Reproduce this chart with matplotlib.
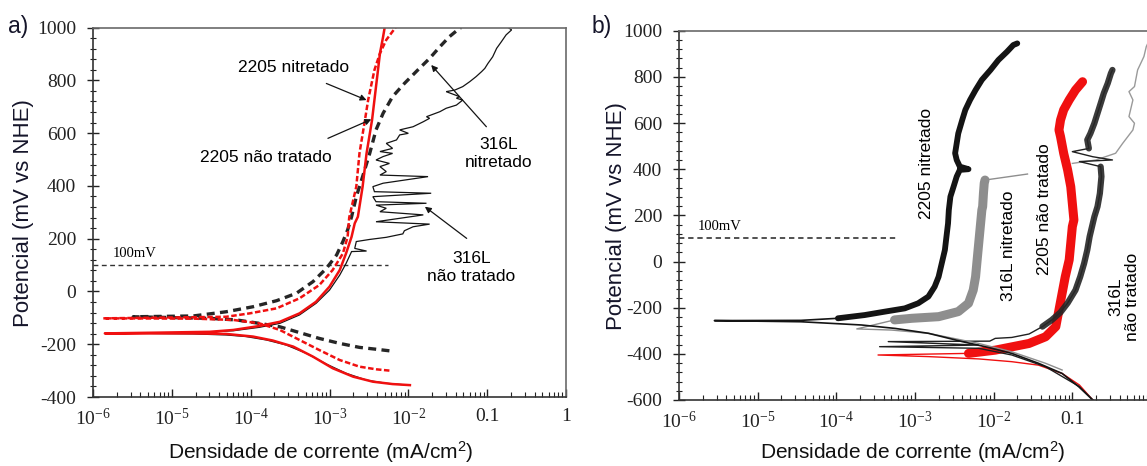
import numpy as np
import matplotlib
matplotlib.use('Agg')
import matplotlib.pyplot as plt
from matplotlib.ticker import (LogLocator, MultipleLocator, FuncFormatter, NullFormatter,
                               FixedLocator)

# ---------------- DATA (log10 current density [mA/cm2], potential [mV vs NHE]) ----------------
# Panel a)
a_2205_nit_logi = [-2.24, -2.41, -2.62, -2.87, -3.13, -3.38, -3.63, -3.89, -4.22, -4.73, -5.87,
                   -4.31, -4.01, -3.67, -3.38, -3.13, -2.96, -2.83, -2.77, -2.75, -2.66, -2.62,
                   -2.55, -2.51, -2.43, -2.36, -2.28, -2.17, -2.16]
a_2205_nit_E = [-300, -295, -285, -260, -222, -184, -146, -121, -108, -103, -102,
                -96, -83, -64, -26, 24, 81, 144, 207, 280, 397, 523,
                650, 725, 839, 902, 953, 997, 1000]

a_2205_nt_logi = [-1.98, -2.20, -2.45, -2.70, -2.96, -3.21, -3.46, -3.72, -3.97, -4.31, -4.73, -5.85,
                  -5.15, -4.52, -4.22, -3.89, -3.63, -3.38, -3.17, -3.00, -2.87, -2.79, -2.72, -2.68,
                  -2.64, -2.58, -2.53, -2.46, -2.41, -2.36, -2.32, -2.30]
a_2205_nt_E = [-355, -351, -342, -323, -291, -247, -209, -186, -171, -161, -159, -159,
               -156, -153, -146, -131, -115, -83, -39, 18, 81, 144, 207, 258,
               283, 397, 523, 650, 776, 902, 965, 1000]

a_316_nit_logi = [-2.24, -2.41, -2.62, -2.87, -3.13, -3.38, -3.63, -3.89, -4.18, -4.52, -5.49,
                  -4.73, -4.31, -3.97, -3.67, -3.42, -3.21, -3.04, -2.91, -2.83, -2.77, -2.72,
                  -2.66, -2.58, -2.49, -2.41, -2.32, -2.20, -2.05, -1.88, -1.73, -1.60, -1.48,
                  -1.35, -1.33]
a_316_nit_E = [-225, -219, -212, -197, -178, -156, -134, -121, -108, -102, -96,
               -93, -77, -58, -35, -7, 37, 87, 138, 189, 233, 283,
               359, 435, 523, 612, 675, 738, 788, 839, 883, 927, 965,
               997, 1000]

a_316_nt_logi = [-2.00, -2.28, -2.53, -2.79, -3.04, -3.29, -3.55, -3.80, -4.06, -4.31, -4.73, -5.37,
                 -4.73, -4.22, -3.89, -3.63, -3.38, -3.17, -3.00, -2.87, -2.79, -2.74, -2.72, -2.53,
                 -2.68, -2.66, -2.49, -2.28, -2.07, -2.05, -1.94, -1.73, -2.41, -1.81, -2.36, -2.28,
                 -2.41, -1.77, -2.41, -2.45, -1.71, -2.43, -2.45, -2.32, -1.75, -2.36, -2.28, -2.36,
                 -2.24, -2.41, -2.32, -2.20, -2.36, -2.20, -2.28, -2.15, -2.11, -2.00, -2.11, -1.94,
                 -1.81, -1.73, -1.77, -1.60, -1.52, -1.39, -1.31, -1.39, -1.35, -1.52, -1.41, -1.31,
                 -1.22, -1.14, -1.07, -1.03, -0.99, -0.93, -0.88, -0.82, -0.76, -0.69, -0.74]
a_316_nt_E = [-355, -348, -336, -310, -275, -235, -203, -184, -171, -165, -161, -159,
              -156, -149, -136, -121, -89, -45, 5, 62, 106, 138, 151, 153,
              163, 189, 197, 205, 218, 230, 245, 255, 264, 290, 302, 315,
              327, 334, 340, 359, 372, 378, 397, 410, 435, 441, 454, 473,
              485, 498, 511, 523, 530, 542, 561, 574, 593, 599, 612, 624,
              643, 656, 662, 681, 694, 706, 725, 732, 738, 757, 763, 776,
              795, 814, 833, 845, 864, 889, 921, 946, 972, 991, 1001]

# Panel b)
b_2205_nit_logi = [-0.74, -0.92, -1.13, -1.43, -1.77, -2.11, -2.40, -2.83, -3.25, -3.68, -4.45, -5.55,
                   -4.45, -3.98, -3.64, -3.38, -3.13, -2.96, -2.83, -2.75, -2.70, -2.66, -2.62, -2.60,
                   -2.58, -2.57, -2.55, -2.51, -2.47, -2.43, -2.32, -2.43, -2.47, -2.49, -2.47, -2.45,
                   -2.40, -2.36, -2.30, -2.23, -2.15, -2.04, -1.94, -1.83, -1.75, -1.70]
b_2205_nit_E = [-600, -542, -485, -441, -398, -369, -347, -311, -290, -275, -261, -256,
                -255, -246, -232, -217, -203, -181, -152, -109, -66, -8, 50, 108,
                165, 223, 281, 324, 368, 397, 400, 411, 440, 469, 512, 555,
                613, 657, 700, 743, 787, 830, 873, 909, 938, 945]

b_316_nit_logi = [-1.13, -1.34, -1.77, -2.19, -2.83, -3.30, -3.74,
                  -3.26, -3.04, -2.70, -2.45, -2.32, -2.26, -2.23, -2.21, -2.19, -2.17, -2.15,
                  -2.14, -2.13, -2.12, -2.11, -1.57]
b_316_nit_E = [-470, -441, -391, -355, -311, -297, -292,
               -253, -246, -239, -217, -181, -124, -66, 7, 79, 151, 223,
               238, 295, 339, 353, 379]

b_2205_nt_logi = [-0.74, -0.91, -1.13, -1.43, -1.77, -2.19, -2.83, -3.47,
                  -2.32, -1.98, -1.55, -1.34, -1.21, -1.17, -1.13, -1.09, -1.04, -1.02, -1.00,
                  -0.98, -1.00, -1.02, -1.06, -1.11, -1.15, -1.17, -1.15, -1.11, -1.04, -0.96, -0.87]
b_2205_nt_E = [-600, -535, -485, -449, -434, -422, -412, -405,
               -398, -384, -355, -326, -282, -210, -138, -66, 7, 79, 151,
               180, 252, 324, 397, 469, 541, 570, 613, 657, 700, 743, 779]

b_316_nt_logi = [-0.74, -0.91, -1.34, -1.77, -2.19, -3.45, -2.19, -3.34, -2.05,
                 -1.98, -1.77, -1.55, -1.38, -1.26, -1.15, -1.06, -0.96, -0.90, -0.85, -0.81,
                 -0.78, -0.75, -0.72, -0.68, -0.65, -0.63, -0.64, -0.91, -0.49, -0.74, -1.00,
                 -0.79, -0.81, -0.77, -0.72, -0.68, -0.64, -0.60, -0.55, -0.51, -0.49]
b_316_nt_E = [-600, -542, -456, -405, -376, -369, -362, -347, -345,
              -333, -329, -314, -282, -253, -220, -180, -124, -66, -8, 50,
              108, 151, 194, 238, 295, 368, 411, 433, 440, 454, 476,
              490, 527, 555, 599, 642, 685, 729, 772, 815, 830]

b_316_nt_top_logi = [-1.00, -0.70, -0.45, -0.36, -0.23, -0.21, -0.28, -0.26, -0.23, -0.28, -0.21,
                     -0.17, -0.13, -0.09, -0.06, -0.03, 0.05]
b_316_nt_top_E = [425, 440, 469, 512, 570, 599, 628, 657, 700, 736, 758,
                  830, 859, 888, 931, 953, 1000]

ref_E = 100
a_ref_logi = [-6.0, -2.26]
b_ref_logi = [-6.0, -3.23]

x_decades = [1e-6, 1e-5, 1e-4, 1e-3, 1e-2, 1e-1, 1.0]

# ---------------- FIGURE ----------------
SERIF = 'Liberation Serif'
SANS = 'Liberation Sans'
plt.rcParams['font.family'] = [SANS, 'DejaVu Sans']

W, H = 1147, 466
fig = plt.figure(figsize=(W / 100, H / 100), dpi=100)
axA = fig.add_axes([93 / W, 1 - 397 / H, 473 / W, (397 - 27.5) / H])
axB = fig.add_axes([679 / W, 1 - 400 / H, 472 / W, (400 - 30.7) / H])

RED = '#f01010'
BLK = '#141414'
GRY = '#8e8e8e'


def p(v):
    return 10.0 ** np.asarray(v)


def xfmt_a(v, pos):
    e = int(round(np.log10(v)))
    if e == -1:
        return '0.1'
    if e == 0:
        return '1'
    return r'$\mathregular{10^{%d}}$' % e


def style(ax, ylim, decades):
    ax.set_xscale('log')
    ax.set_xlim(1e-6, 1)
    ax.set_ylim(*ylim)
    ax.xaxis.set_major_locator(FixedLocator(decades))
    ax.xaxis.set_minor_locator(LogLocator(base=10, subs=np.arange(2, 10), numticks=20))
    ax.xaxis.set_major_formatter(FuncFormatter(xfmt_a))
    ax.xaxis.set_minor_formatter(NullFormatter())
    ax.yaxis.set_major_locator(MultipleLocator(200))
    ax.yaxis.set_minor_locator(MultipleLocator(40))
    ax.yaxis.set_major_formatter(FuncFormatter(lambda v, pp: '%d' % round(v)))
    ax.tick_params(axis='x', which='major', direction='in', length=6, width=1.0, pad=8,
                   labelsize=14, labelfontfamily=SERIF, top=False, colors='#222')
    ax.tick_params(axis='x', which='minor', direction='in', length=3.5, width=0.8, top=False,
                   colors='#222')
    ax.tick_params(axis='y', which='major', direction='inout', length=8, width=1.0, pad=8,
                   labelsize=14, labelfontfamily=SERIF, right=False, colors='#222')
    ax.tick_params(axis='y', which='minor', direction='inout', length=5, width=0.8, right=False,
                   colors='#222')
    for s in ax.spines.values():
        s.set_linewidth(1.2)
        s.set_color('#333333')
    ax.spines['top'].set_color('#6a6a6a')
    ax.spines['right'].set_color('#6a6a6a')
    ax.set_facecolor('white')


style(axA, (-400, 1000), x_decades)
style(axB, (-600, 1000), x_decades[:-1])

# ---- panel a curves ----
axA.plot(p(a_ref_logi), [ref_E, ref_E], color='#333333', lw=1.0, dashes=(3.5, 2.5))
axA.plot(p(a_316_nt_logi), a_316_nt_E, color=BLK, lw=0.9, solid_joinstyle='miter')
axA.plot(p(a_316_nit_logi), a_316_nit_E, color='#262626', lw=2.4, dashes=(2.4, 1.6))
axA.plot(p(a_2205_nt_logi), a_2205_nt_E, color=RED, lw=1.8)
axA.plot(p(a_2205_nit_logi), a_2205_nit_E, color=RED, lw=1.8, dashes=(2.2, 1.0))

axA.text(p(-5.47), 144, '100mV', family=SERIF, fontsize=10.5, ha='center', va='center')

arrow = dict(arrowstyle='-|>', color=BLK, lw=0.9, mutation_scale=9, shrinkA=0, shrinkB=0)
axA.text(p(-3.46), 850, '2205 nitretado', fontsize=12.5, ha='center', va='center')
axA.annotate('', xy=(p(-2.53), 725), xytext=(p(-3.04), 788), arrowprops=arrow)
axA.text(p(-3.81), 509, '2205 não tratado', fontsize=12.5, ha='center', va='center')
axA.annotate('', xy=(p(-2.47), 652), xytext=(p(-3.02), 580), arrowprops=arrow)
axA.text(p(-0.86), 521, '316L\nnitretado', fontsize=12.5, ha='center', va='center',
         linespacing=1.25)
axA.annotate('', xy=(p(-1.71), 858), xytext=(p(-1.01), 624), arrowprops=arrow)
axA.text(p(-1.20), 89, '316L\nnão tratado', fontsize=12.5, ha='center', va='center',
         linespacing=1.25)
axA.annotate('', xy=(p(-1.79), 321), xytext=(p(-1.26), 201), arrowprops=arrow)

# ---- panel b curves ----
axB.plot(p(b_ref_logi), [ref_E, ref_E], color='#222222', lw=1.1, dashes=(3.5, 2.5))
axB.plot(p(b_316_nt_top_logi), b_316_nt_top_E, color='#9a9a9a', lw=1.0)

axB.plot(p(b_2205_nt_logi), b_2205_nt_E, color=RED, lw=1.0)
axB.plot(p(b_2205_nt_logi[8:]), b_2205_nt_E[8:], color=RED, lw=6.5,
         solid_joinstyle='round', solid_capstyle='round')

axB.plot(p(b_316_nt_logi), b_316_nt_E, color='#202020', lw=1.0)
axB.plot(p(b_316_nt_logi[12:27]), b_316_nt_E[12:27], color='#262626', lw=4.5, alpha=0.9,
         solid_joinstyle='round', solid_capstyle='round')
axB.plot(p(b_316_nt_logi[31:]), b_316_nt_E[31:], color='#262626', lw=4.5, alpha=0.9,
         solid_joinstyle='round', solid_capstyle='round')

axB.plot(p(b_316_nit_logi), b_316_nit_E, color=GRY, lw=1.0)
axB.plot(p(b_316_nit_logi[7:22]), b_316_nit_E[7:22], color=GRY, lw=6.5,
         solid_joinstyle='round', solid_capstyle='round')

axB.plot(p(b_2205_nit_logi), b_2205_nit_E, color=BLK, lw=1.2)
axB.plot(p(b_2205_nit_logi[13:]), b_2205_nit_E[13:], color=BLK, lw=4.2,
         solid_joinstyle='round', solid_capstyle='round')

axB.text(p(-5.48), 151, '100mV', family=SERIF, fontsize=10.5, ha='center', va='center')
axB.text(p(-2.85), 427, '2205 nitretado', fontsize=12.5, rotation=90, ha='center', va='center')
axB.text(p(-1.81), 67, '316L nitretado', fontsize=12.5, rotation=90, ha='center', va='center')
axB.text(p(-1.35), 227, '2205 não tratado', fontsize=12.5, rotation=90, ha='center',
         va='center')
axB.text(p(-0.34), -154, '316L\nnão tratado', fontsize=12.5, rotation=90, ha='center',
         va='center', linespacing=1.15)

# ---- labels ----
XL = r'Densidade de corrente (mA/cm$\mathregular{^2}$)'
YL = 'Potencial (mV vs NHE)'
LBLC = '#15152a'
for ax, xc, yc_x, xly, yly in [(axA, 0.482, -0.146, -0.150, 0.498),
                                (axB, 0.496, -0.133, -0.142, 0.498)]:
    ax.set_xlabel(XL, fontsize=15, color='#111111')
    ax.xaxis.label.set_va('center')
    ax.xaxis.set_label_coords(xc, xly)
    ax.set_ylabel(YL, fontsize=16, color=LBLC)
    ax.yaxis.label.set_va('center')
    ax.yaxis.set_label_coords(yc_x, yly)

fig.text(8 / W, 1 - 27 / H, 'a)', fontsize=16.5, ha='left', va='center', color=LBLC)
fig.text(592 / W, 1 - 27 / H, 'b)', fontsize=16.5, ha='left', va='center', color=LBLC)

fig.savefig('out.png', dpi=100, facecolor='white')
